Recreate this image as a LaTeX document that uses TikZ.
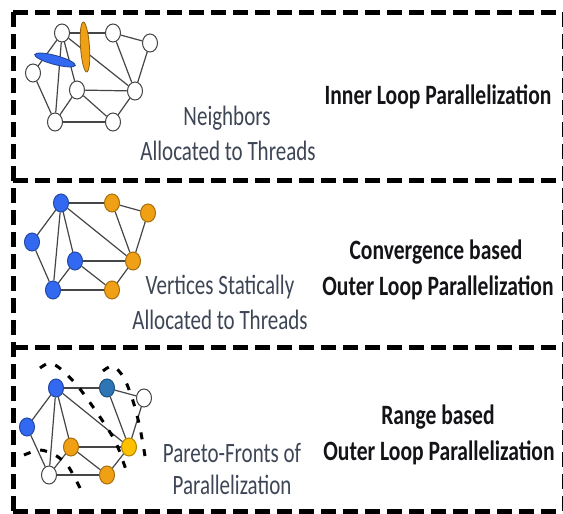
\documentclass[tikz,border=0pt]{standalone}
\usepackage{fontspec}
\setmainfont{Carlito}
\usetikzlibrary{shapes.geometric}
\definecolor{nblue}{RGB}{50,105,240}
\definecolor{norange}{RGB}{240,160,20}
\definecolor{nsteel}{RGB}{46,117,182}
\definecolor{nyellow}{RGB}{255,192,0}
\definecolor{edgegray}{RGB}{70,70,70}
\definecolor{captxt}{RGB}{62,70,86}
\definecolor{boldtxt}{RGB}{20,20,24}
\tikzset{
  frame/.style={line width=5, dash pattern=on 15 off 7, black},
  vtx/.style={ellipse, draw=edgegray, line width=1, minimum width=15, minimum height=18, inner sep=0, fill=white},
  bluev/.style={vtx, fill=nblue, draw=nblue!70!black},
  orangev/.style={vtx, fill=norange, draw=norange!70!black},
  steelv/.style={vtx, fill=nsteel, draw=nsteel!70!black},
  yellowv/.style={vtx, fill=nyellow, draw=nyellow!70!black},
  edge/.style={draw=edgegray, line width=1.2},
  front/.style={line width=3, dash pattern=on 7 off 10, black},
  captext/.style={font=\fontsize{28}{32}\selectfont, text=captxt, inner sep=0},
  boldtitle/.style={font=\fontsize{28}{32}\selectfont\bfseries, text=boldtxt, inner sep=0},
}
\newcommand{\sq}[1]{\scalebox{0.75}[1]{#1}}
\newcommand{\sqb}[1]{\scalebox{0.77}[1]{#1}}
\begin{document}
\begin{tikzpicture}[x=1pt,y=-1pt]
\useasboundingbox (0,0) rectangle (563,514);
\fill[white] (0,0) rectangle (563,514);
% frames
\draw[frame] (13,12) -- (564,12);
\draw[frame] (13,180) -- (564,180);
\draw[frame] (13,347) -- (564,347);
\draw[frame] (13,511) -- (564,511);
\draw[frame] (13,12) -- (13,511);
\draw[frame] (564.5,12) -- (564.5,511);

% ---------- Panel 1 ----------
\node[vtx] (a1) at (62,33) {};
\node[vtx] (b1) at (113,33) {};
\node[vtx] (c1) at (150,43) {};
\node[vtx] (d1) at (33,73) {};
\node[vtx] (e1) at (77,90) {};
\node[vtx] (f1) at (135,91) {};
\node[vtx] (g1) at (55,122) {};
\node[vtx] (h1) at (113,122) {};
\foreach \u/\v in {a1/b1,b1/c1,c1/f1,b1/f1,a1/d1,d1/g1,a1/g1,a1/e1,a1/f1,e1/f1,e1/g1,e1/h1,g1/h1,h1/f1}
  \path[edge] (\u) -- (\v);
\node[ellipse, fill=nblue, draw=nblue!60!black, line width=0.8, minimum width=42, minimum height=9, inner sep=0, rotate=-15] (thb) at (55,60) {};
\node[ellipse, fill=norange, draw=norange!60!black, line width=0.8, minimum width=50, minimum height=9, inner sep=0, rotate=-86] (tho) at (85,47) {};
\node[captext] (t1a) at (227,118) {\sq{Neighbors}};
\node[captext] (t1b) at (228,151) {\sq{Allocated to Threads}};
\node[boldtitle] (t1c) at (438,97) {\sqb{Inner Loop Parallelization}};

% ---------- Panel 2 ----------
\node[bluev] (a2) at (61,203) {};
\node[orangev] (b2) at (112,203) {};
\node[orangev] (c2) at (148,213) {};
\node[bluev] (d2) at (32,242) {};
\node[bluev] (e2) at (75,261) {};
\node[orangev] (f2) at (133,261) {};
\node[bluev] (g2) at (53,290) {};
\node[orangev] (h2) at (112,290) {};
\foreach \u/\v in {a2/b2,b2/c2,c2/f2,b2/f2,a2/d2,d2/g2,a2/g2,a2/e2,a2/f2,e2/f2,e2/g2,e2/h2,g2/h2,h2/f2}
  \path[edge] (\u) -- (\v);
\node[captext] (t2a) at (220,287) {\sq{Vertices Statically}};
\node[captext] (t2b) at (220,320) {\sq{Allocated to Threads}};
\node[boldtitle] (t2c) at (436,252) {\sqb{Convergence based}};
\node[boldtitle] (t2d) at (438,288) {\sqb{Outer Loop Parallelization}};

% ---------- Panel 3 ----------
\node[bluev] (a3) at (56,388) {};
\node[steelv] (b3) at (107,388) {};
\node[vtx] (c3) at (144,398) {};
\node[bluev] (d3) at (27,427) {};
\node[orangev] (e3) at (71,447) {};
\node[yellowv] (f3) at (129,447) {};
\node[vtx] (g3) at (49,475) {};
\node[orangev] (h3) at (107,475) {};
\foreach \u/\v in {a3/b3,b3/c3,c3/f3,b3/f3,a3/d3,d3/g3,a3/g3,a3/e3,a3/f3,e3/f3,e3/g3,e3/h3,g3/h3,h3/f3}
  \path[edge] (\u) -- (\v);
\draw[front] plot[smooth] coordinates {(40,368) (50,363) (62,370) (80,389) (104,423) (117,445) (128,476)};
\draw[front] plot[smooth] coordinates {(103,371) (113,366) (124,378) (133,401) (140,428) (146,462)};
\draw[front] plot[smooth] coordinates {(24,455) (40,450) (55,455) (68,466) (80,488)};
\node[captext] (t3a) at (232,453) {\sq{Pareto-Fronts of}};
\node[captext] (t3b) at (232,485) {\sq{Parallelization}};
\node[boldtitle] (t3c) at (438,417) {\sqb{Range based}};
\node[boldtitle] (t3d) at (439,453) {\sqb{Outer Loop Parallelization}};
\end{tikzpicture}
\end{document}
